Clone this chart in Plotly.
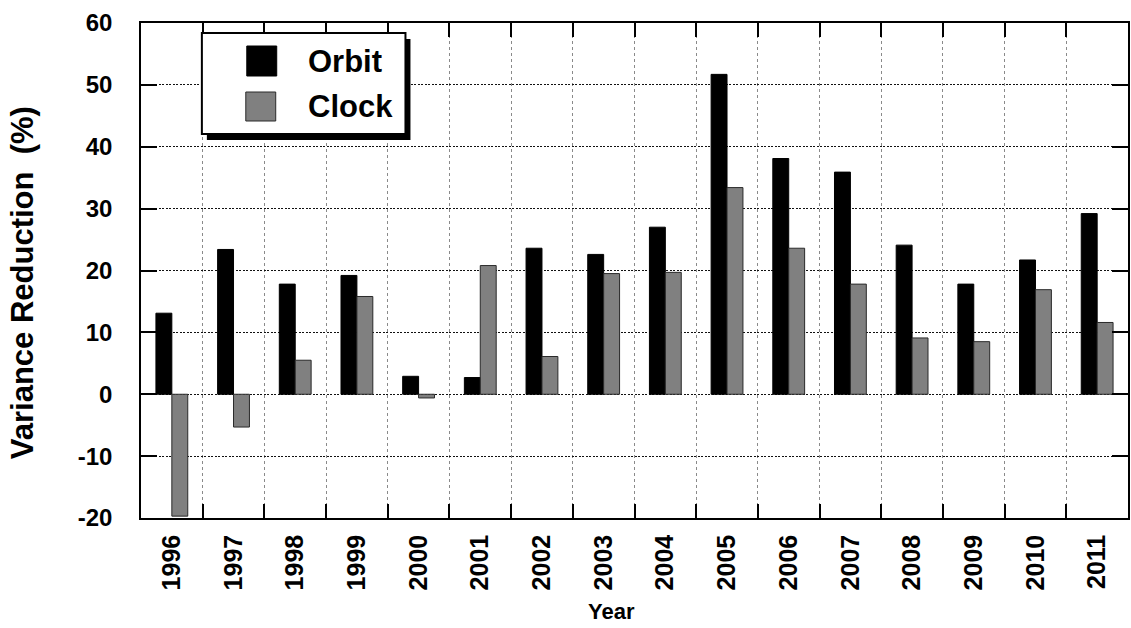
import plotly.graph_objects as go

years = [str(y) for y in range(1996, 2012)]
orbit = [13.1, 23.4, 17.8, 19.2, 2.9, 2.7, 23.6, 22.6, 27.0, 51.7, 38.1, 35.9, 24.1, 17.8, 21.7, 29.2]
clock = [-19.7, -5.3, 5.5, 15.8, -0.6, 20.8, 6.1, 19.5, 19.7, 33.4, 23.6, 17.8, 9.1, 8.5, 16.9, 11.6]
y_ticks = [-20, -10, 0, 10, 20, 30, 40, 50, 60]
y_labels = ["-20", "-10", "0", "10", "20", "30", "40", "50", "60"]

FONT = "Liberation Sans, Arial, sans-serif"
W, H = 1131, 628
L, R, T, B = 141, 1, 23, 110


#* helpers to place legend decoration in pixel terms
def px_x(x):
    return (x - L) / (W - L - R)


def px_y(y):
    return (H - B - y) / (H - T - B)


fig = go.Figure()
fig.add_trace(go.Bar(x=years, y=orbit, name="Orbit", marker_color="black",
                     marker_line_color="black", marker_line_width=1))
fig.add_trace(go.Bar(x=years, y=clock, name="Clock", marker_color="#808080",
                     marker_line_color="#2a2a2a", marker_line_width=1))

fig.update_layout(
    width=W, height=H,
    margin=dict(l=L, r=R, t=T, b=B),
    paper_bgcolor="white", plot_bgcolor="white",
    barmode="group", bargap=0.484, bargroupgap=0,
    showlegend=False,
    font=dict(family=FONT, color="black"),
)

fig.update_xaxes(
    type="category", tickson="boundaries",
    showline=True, linecolor="black", linewidth=1.5, mirror="ticks",
    ticks="inside", ticklen=14, tickcolor="black", tickwidth=1.5,
    showgrid=True, gridcolor="#8a8a8a", griddash="3px,3px", gridwidth=1,
    tickangle=-90, tickfont=dict(size=25, family=FONT, weight="bold"),
    ticklabelstandoff=5,
)
fig.update_yaxes(
    range=[-20, 60], tickvals=y_ticks, ticktext=y_labels,
    showline=True, linecolor="black", linewidth=1.5, mirror="ticks",
    ticks="inside", ticklen=16, tickcolor="black", tickwidth=1.5,
    showgrid=True, gridcolor="#111111", griddash="2px,1.5px", gridwidth=1.3,
    zeroline=False,
    tickfont=dict(size=24, family=FONT, weight="bold"),
    ticklabelstandoff=22,
)

#* axis titles
fig.add_annotation(text="Variance Reduction  (%)", textangle=-90, xref="paper", yref="paper",
                   x=px_x(22), y=px_y(283), xanchor="center", yanchor="middle", showarrow=False,
                   font=dict(size=31, family=FONT, weight="bold"))
fig.add_annotation(text="Year", xref="paper", yref="paper", x=px_x(612), y=px_y(611),
                   xanchor="center", yanchor="middle",
                   showarrow=False, font=dict(size=22, family=FONT, weight="bold"))

#* legend box with drop shadow
fig.add_shape(type="rect", xref="paper", yref="paper", x0=px_x(207), x1=px_x(411),
              y0=px_y(39), y1=px_y(140), fillcolor="black", line_width=0, layer="above")
fig.add_shape(type="rect", xref="paper", yref="paper", x0=px_x(202), x1=px_x(406),
              y0=px_y(33), y1=px_y(134), fillcolor="white", line=dict(color="black", width=2),
              layer="above")
fig.add_shape(type="rect", xref="paper", yref="paper", x0=px_x(247), x1=px_x(277),
              y0=px_y(46), y1=px_y(76), fillcolor="black", line=dict(color="black", width=1),
              layer="above")
fig.add_shape(type="rect", xref="paper", yref="paper", x0=px_x(246), x1=px_x(276),
              y0=px_y(92), y1=px_y(121), fillcolor="#808080", line=dict(color="#2a2a2a", width=1),
              layer="above")
fig.add_annotation(text="Orbit", xref="paper", yref="paper", x=px_x(306), y=px_y(61),
                   xanchor="left", yanchor="middle", showarrow=False,
                   font=dict(size=31, family=FONT, weight="bold"))
fig.add_annotation(text="Clock", xref="paper", yref="paper", x=px_x(306), y=px_y(107),
                   xanchor="left", yanchor="middle", showarrow=False,
                   font=dict(size=31, family=FONT, weight="bold"))

#! drop the default page margin so the figure sits at the window corner
fig.write_html("out.html", config={"displayModeBar": False},
               post_script="document.body.style.margin='0';")
